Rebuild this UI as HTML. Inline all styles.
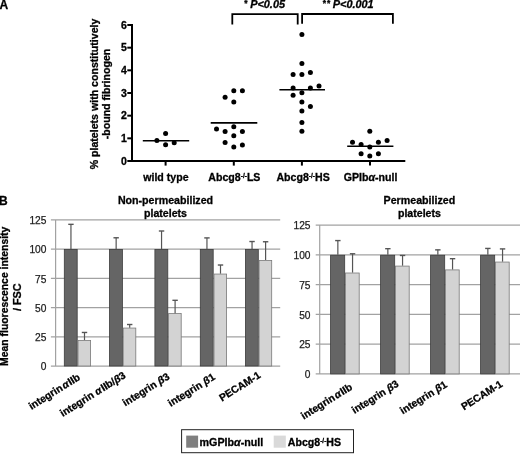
<!DOCTYPE html>
<html><head><meta charset="utf-8"><style>
html,body{margin:0;padding:0;background:#fff;}
body{width:520px;height:454px;overflow:hidden;}
svg{display:block;font-family:"Liberation Sans", sans-serif;will-change:transform;}
text{stroke:#000;stroke-width:0.3px;}
text.r{stroke:#222;stroke-width:0.25px;}
</style></head><body>
<svg width="520" height="454" viewBox="0 0 520 454">
<text x="-0.6" y="8.5" font-size="12" font-weight="bold">A</text>
<line x1="132" y1="24" x2="132" y2="162" stroke="#000" stroke-width="2"/>
<line x1="127.3" y1="161.00" x2="132" y2="161.00" stroke="#000" stroke-width="2"/>
<text x="126.9" y="164.70" font-size="10.5" font-weight="bold" text-anchor="end">0</text>
<line x1="127.3" y1="138.33" x2="132" y2="138.33" stroke="#000" stroke-width="2"/>
<text x="126.9" y="142.03" font-size="10.5" font-weight="bold" text-anchor="end">1</text>
<line x1="127.3" y1="115.67" x2="132" y2="115.67" stroke="#000" stroke-width="2"/>
<text x="126.9" y="119.37" font-size="10.5" font-weight="bold" text-anchor="end">2</text>
<line x1="127.3" y1="93.00" x2="132" y2="93.00" stroke="#000" stroke-width="2"/>
<text x="126.9" y="96.70" font-size="10.5" font-weight="bold" text-anchor="end">3</text>
<line x1="127.3" y1="70.33" x2="132" y2="70.33" stroke="#000" stroke-width="2"/>
<text x="126.9" y="74.03" font-size="10.5" font-weight="bold" text-anchor="end">4</text>
<line x1="127.3" y1="47.66" x2="132" y2="47.66" stroke="#000" stroke-width="2"/>
<text x="126.9" y="51.36" font-size="10.5" font-weight="bold" text-anchor="end">5</text>
<line x1="127.3" y1="25.00" x2="132" y2="25.00" stroke="#000" stroke-width="2"/>
<text x="126.9" y="28.70" font-size="10.5" font-weight="bold" text-anchor="end">6</text>
<line x1="131" y1="161" x2="405.3" y2="161" stroke="#000" stroke-width="2"/>
<line x1="165.6" y1="161" x2="165.6" y2="165.6" stroke="#000" stroke-width="2"/>
<line x1="233.8" y1="161" x2="233.8" y2="165.6" stroke="#000" stroke-width="2"/>
<line x1="301.9" y1="161" x2="301.9" y2="165.6" stroke="#000" stroke-width="2"/>
<line x1="370.0" y1="161" x2="370.0" y2="165.6" stroke="#000" stroke-width="2"/>
<text x="165.9" y="181.4" font-size="10.6" font-weight="bold" text-anchor="middle">wild type</text>
<text x="234.4" y="181.4" font-size="10.6" font-weight="bold" text-anchor="middle">Abcg8<tspan font-size="6.5" dy="-3.5">-/-</tspan><tspan dy="3.5">LS</tspan></text>
<text x="303.09999999999997" y="181.4" font-size="10.6" font-weight="bold" text-anchor="middle">Abcg8<tspan font-size="6.5" dy="-3.5">-/-</tspan><tspan dy="3.5">HS</tspan></text>
<text x="370.6" y="181.4" font-size="10.6" font-weight="bold" text-anchor="middle">GPIb<tspan font-style="italic">α</tspan>-null</text>
<text transform="translate(98.0,94) rotate(-90)" font-size="10.6" font-weight="bold" text-anchor="middle">% platelets with constitutively</text>
<text transform="translate(109.8,94) rotate(-90)" font-size="10.6" font-weight="bold" text-anchor="middle">-bound fibrinogen</text>
<circle cx="156.9" cy="140.5" r="2.5" fill="#000"/>
<circle cx="165.6" cy="133.5" r="2.5" fill="#000"/>
<circle cx="165.6" cy="144.8" r="2.5" fill="#000"/>
<circle cx="174.2" cy="142.7" r="2.5" fill="#000"/>
<circle cx="233.8" cy="90.7" r="2.5" fill="#000"/>
<circle cx="242.4" cy="90.7" r="2.5" fill="#000"/>
<circle cx="225.1" cy="97.3" r="2.5" fill="#000"/>
<circle cx="233.8" cy="102" r="2.5" fill="#000"/>
<circle cx="233.8" cy="126.7" r="2.5" fill="#000"/>
<circle cx="216.5" cy="129" r="2.5" fill="#000"/>
<circle cx="225.1" cy="131.5" r="2.5" fill="#000"/>
<circle cx="242.4" cy="131.5" r="2.5" fill="#000"/>
<circle cx="233.8" cy="135.8" r="2.5" fill="#000"/>
<circle cx="225.1" cy="142.4" r="2.5" fill="#000"/>
<circle cx="233.8" cy="146.9" r="2.5" fill="#000"/>
<circle cx="242.4" cy="144.9" r="2.5" fill="#000"/>
<circle cx="301.9" cy="34.4" r="2.5" fill="#000"/>
<circle cx="301.9" cy="63.5" r="2.5" fill="#000"/>
<circle cx="293.1" cy="74.5" r="2.5" fill="#000"/>
<circle cx="301.9" cy="74.5" r="2.5" fill="#000"/>
<circle cx="310.4" cy="72.5" r="2.5" fill="#000"/>
<circle cx="319" cy="86.1" r="2.5" fill="#000"/>
<circle cx="293.1" cy="87.9" r="2.5" fill="#000"/>
<circle cx="310.4" cy="87.9" r="2.5" fill="#000"/>
<circle cx="301.9" cy="92.7" r="2.5" fill="#000"/>
<circle cx="293.1" cy="95.2" r="2.5" fill="#000"/>
<circle cx="301.9" cy="102" r="2.5" fill="#000"/>
<circle cx="310.4" cy="106.4" r="2.5" fill="#000"/>
<circle cx="301.9" cy="110.9" r="2.5" fill="#000"/>
<circle cx="301.9" cy="122.4" r="2.5" fill="#000"/>
<circle cx="301.9" cy="131.3" r="2.5" fill="#000"/>
<circle cx="369.8" cy="131.3" r="2.5" fill="#000"/>
<circle cx="352.5" cy="142.3" r="2.5" fill="#000"/>
<circle cx="361.1" cy="144.6" r="2.5" fill="#000"/>
<circle cx="369.8" cy="146.9" r="2.5" fill="#000"/>
<circle cx="378.4" cy="142.3" r="2.5" fill="#000"/>
<circle cx="387.1" cy="140.5" r="2.5" fill="#000"/>
<circle cx="361.1" cy="153.8" r="2.5" fill="#000"/>
<circle cx="369.8" cy="156.1" r="2.5" fill="#000"/>
<circle cx="378.4" cy="153.8" r="2.5" fill="#000"/>
<line x1="142.8" y1="140.8" x2="189.2" y2="140.8" stroke="#000" stroke-width="1.6"/>
<line x1="210.7" y1="122.9" x2="257.3" y2="122.9" stroke="#000" stroke-width="1.6"/>
<line x1="279.4" y1="89.8" x2="325" y2="89.8" stroke="#000" stroke-width="1.6"/>
<line x1="347.2" y1="146.2" x2="393.4" y2="146.2" stroke="#000" stroke-width="1.6"/>
<path d="M232.3 24.6 V14.2 H297.7 V24.6" fill="none" stroke="#000" stroke-width="1.8"/>
<path d="M302.1 23.8 V14.0 H392.9 V23.8" fill="none" stroke="#000" stroke-width="1.8"/>
<text x="245.8" y="6.3" font-size="8.5" font-weight="bold" text-anchor="middle">*</text>
<text x="250.2" y="7.9" font-size="10.9" font-weight="bold" font-style="italic">P&lt;0.05</text>
<text x="324.3" y="6.1" font-size="8.5" font-weight="bold" text-anchor="middle">*</text><text x="328.6" y="6.1" font-size="8.5" font-weight="bold" text-anchor="middle">*</text>
<text x="332.8" y="7.9" font-size="10.9" font-weight="bold" font-style="italic">P&lt;0.001</text>
<text x="-1" y="204.8" font-size="12" font-weight="bold">B</text>
<line x1="50.9" y1="366.00" x2="280.2" y2="366.00" stroke="#a2a2a2" stroke-width="1.25"/>
<text x="46.400000000000006" y="370.30" font-size="10.2" text-anchor="end" fill="#1a1a1a" class="r">0</text>
<line x1="50.9" y1="336.78" x2="280.2" y2="336.78" stroke="#a2a2a2" stroke-width="1.25"/>
<text x="46.400000000000006" y="341.08" font-size="10.2" text-anchor="end" fill="#1a1a1a" class="r">25</text>
<line x1="50.9" y1="307.56" x2="280.2" y2="307.56" stroke="#a2a2a2" stroke-width="1.25"/>
<text x="46.400000000000006" y="311.86" font-size="10.2" text-anchor="end" fill="#1a1a1a" class="r">50</text>
<line x1="50.9" y1="278.34" x2="280.2" y2="278.34" stroke="#a2a2a2" stroke-width="1.25"/>
<text x="46.400000000000006" y="282.64" font-size="10.2" text-anchor="end" fill="#1a1a1a" class="r">75</text>
<line x1="50.9" y1="249.12" x2="280.2" y2="249.12" stroke="#a2a2a2" stroke-width="1.25"/>
<text x="46.400000000000006" y="253.42" font-size="10.2" text-anchor="end" fill="#1a1a1a" class="r">100</text>
<line x1="50.9" y1="219.90" x2="280.2" y2="219.90" stroke="#a2a2a2" stroke-width="1.25"/>
<text x="46.400000000000006" y="224.20" font-size="10.2" text-anchor="end" fill="#1a1a1a" class="r">125</text>
<line x1="55.6" y1="219.90" x2="55.6" y2="366.00" stroke="#a2a2a2" stroke-width="1.2"/>
<rect x="64.30" y="249.52" width="12.90" height="116.48" fill="#656565" stroke="#3c3c3c" stroke-width="0.8"/>
<rect x="78.00" y="340.45" width="12.60" height="25.55" fill="#d3d3d3" stroke="#7a7a7a" stroke-width="0.8"/>
<line x1="70.95" y1="249.12" x2="70.95" y2="224.34" stroke="#555" stroke-width="1.2"/>
<line x1="68.25" y1="224.34" x2="73.65" y2="224.34" stroke="#555" stroke-width="1.4"/>
<line x1="84.50" y1="340.05" x2="84.50" y2="332.46" stroke="#555" stroke-width="1.2"/>
<line x1="81.80" y1="332.46" x2="87.20" y2="332.46" stroke="#555" stroke-width="1.4"/>
<rect x="109.50" y="249.52" width="12.90" height="116.48" fill="#656565" stroke="#3c3c3c" stroke-width="0.8"/>
<rect x="123.20" y="328.06" width="12.60" height="37.94" fill="#d3d3d3" stroke="#7a7a7a" stroke-width="0.8"/>
<line x1="116.15" y1="249.12" x2="116.15" y2="237.78" stroke="#555" stroke-width="1.2"/>
<line x1="113.45" y1="237.78" x2="118.85" y2="237.78" stroke="#555" stroke-width="1.4"/>
<line x1="129.70" y1="327.66" x2="129.70" y2="324.51" stroke="#555" stroke-width="1.2"/>
<line x1="127.00" y1="324.51" x2="132.40" y2="324.51" stroke="#555" stroke-width="1.4"/>
<rect x="154.90" y="249.52" width="12.90" height="116.48" fill="#656565" stroke="#3c3c3c" stroke-width="0.8"/>
<rect x="168.60" y="313.57" width="12.60" height="52.43" fill="#d3d3d3" stroke="#7a7a7a" stroke-width="0.8"/>
<line x1="161.55" y1="249.12" x2="161.55" y2="231.00" stroke="#555" stroke-width="1.2"/>
<line x1="158.85" y1="231.00" x2="164.25" y2="231.00" stroke="#555" stroke-width="1.4"/>
<line x1="175.10" y1="313.17" x2="175.10" y2="300.31" stroke="#555" stroke-width="1.2"/>
<line x1="172.40" y1="300.31" x2="177.80" y2="300.31" stroke="#555" stroke-width="1.4"/>
<rect x="200.30" y="249.52" width="12.90" height="116.48" fill="#656565" stroke="#3c3c3c" stroke-width="0.8"/>
<rect x="214.00" y="274.06" width="12.60" height="91.94" fill="#d3d3d3" stroke="#7a7a7a" stroke-width="0.8"/>
<line x1="206.95" y1="249.12" x2="206.95" y2="237.90" stroke="#555" stroke-width="1.2"/>
<line x1="204.25" y1="237.90" x2="209.65" y2="237.90" stroke="#555" stroke-width="1.4"/>
<line x1="220.50" y1="273.66" x2="220.50" y2="265.02" stroke="#555" stroke-width="1.2"/>
<line x1="217.80" y1="265.02" x2="223.20" y2="265.02" stroke="#555" stroke-width="1.4"/>
<rect x="245.40" y="249.52" width="12.90" height="116.48" fill="#656565" stroke="#3c3c3c" stroke-width="0.8"/>
<rect x="259.10" y="260.51" width="12.60" height="105.49" fill="#d3d3d3" stroke="#7a7a7a" stroke-width="0.8"/>
<line x1="252.05" y1="249.12" x2="252.05" y2="241.52" stroke="#555" stroke-width="1.2"/>
<line x1="249.35" y1="241.52" x2="254.75" y2="241.52" stroke="#555" stroke-width="1.4"/>
<line x1="265.60" y1="260.11" x2="265.60" y2="241.76" stroke="#555" stroke-width="1.2"/>
<line x1="262.90" y1="241.76" x2="268.30" y2="241.76" stroke="#555" stroke-width="1.4"/>
<line x1="315.7" y1="373.90" x2="520" y2="373.90" stroke="#a2a2a2" stroke-width="1.25"/>
<text x="310.5" y="378.20" font-size="10.2" text-anchor="end" fill="#1a1a1a" class="r">0</text>
<line x1="315.7" y1="344.14" x2="520" y2="344.14" stroke="#a2a2a2" stroke-width="1.25"/>
<text x="310.5" y="348.44" font-size="10.2" text-anchor="end" fill="#1a1a1a" class="r">25</text>
<line x1="315.7" y1="314.38" x2="520" y2="314.38" stroke="#a2a2a2" stroke-width="1.25"/>
<text x="310.5" y="318.68" font-size="10.2" text-anchor="end" fill="#1a1a1a" class="r">50</text>
<line x1="315.7" y1="284.62" x2="520" y2="284.62" stroke="#a2a2a2" stroke-width="1.25"/>
<text x="310.5" y="288.92" font-size="10.2" text-anchor="end" fill="#1a1a1a" class="r">75</text>
<line x1="315.7" y1="254.86" x2="520" y2="254.86" stroke="#a2a2a2" stroke-width="1.25"/>
<text x="310.5" y="259.16" font-size="10.2" text-anchor="end" fill="#1a1a1a" class="r">100</text>
<line x1="315.7" y1="225.10" x2="520" y2="225.10" stroke="#a2a2a2" stroke-width="1.25"/>
<text x="310.5" y="229.40" font-size="10.2" text-anchor="end" fill="#1a1a1a" class="r">125</text>
<line x1="319.7" y1="225.10" x2="319.7" y2="373.90" stroke="#a2a2a2" stroke-width="1.2"/>
<rect x="330.60" y="255.26" width="14.10" height="118.64" fill="#656565" stroke="#3c3c3c" stroke-width="0.8"/>
<rect x="345.50" y="273.00" width="13.70" height="100.90" fill="#d3d3d3" stroke="#7a7a7a" stroke-width="0.8"/>
<line x1="337.85" y1="254.86" x2="337.85" y2="240.58" stroke="#555" stroke-width="1.2"/>
<line x1="335.15" y1="240.58" x2="340.55" y2="240.58" stroke="#555" stroke-width="1.4"/>
<line x1="352.55" y1="272.60" x2="352.55" y2="253.79" stroke="#555" stroke-width="1.2"/>
<line x1="349.85" y1="253.79" x2="355.25" y2="253.79" stroke="#555" stroke-width="1.4"/>
<rect x="380.60" y="255.26" width="14.10" height="118.64" fill="#656565" stroke="#3c3c3c" stroke-width="0.8"/>
<rect x="395.50" y="266.09" width="13.70" height="107.81" fill="#d3d3d3" stroke="#7a7a7a" stroke-width="0.8"/>
<line x1="387.85" y1="254.86" x2="387.85" y2="248.67" stroke="#555" stroke-width="1.2"/>
<line x1="385.15" y1="248.67" x2="390.55" y2="248.67" stroke="#555" stroke-width="1.4"/>
<line x1="402.55" y1="265.69" x2="402.55" y2="255.46" stroke="#555" stroke-width="1.2"/>
<line x1="399.85" y1="255.46" x2="405.25" y2="255.46" stroke="#555" stroke-width="1.4"/>
<rect x="430.60" y="255.26" width="14.10" height="118.64" fill="#656565" stroke="#3c3c3c" stroke-width="0.8"/>
<rect x="445.50" y="269.90" width="13.70" height="104.00" fill="#d3d3d3" stroke="#7a7a7a" stroke-width="0.8"/>
<line x1="437.85" y1="254.86" x2="437.85" y2="249.86" stroke="#555" stroke-width="1.2"/>
<line x1="435.15" y1="249.86" x2="440.55" y2="249.86" stroke="#555" stroke-width="1.4"/>
<line x1="452.55" y1="269.50" x2="452.55" y2="258.67" stroke="#555" stroke-width="1.2"/>
<line x1="449.85" y1="258.67" x2="455.25" y2="258.67" stroke="#555" stroke-width="1.4"/>
<rect x="480.60" y="255.26" width="14.10" height="118.64" fill="#656565" stroke="#3c3c3c" stroke-width="0.8"/>
<rect x="495.50" y="262.05" width="13.70" height="111.85" fill="#d3d3d3" stroke="#7a7a7a" stroke-width="0.8"/>
<line x1="487.85" y1="254.86" x2="487.85" y2="248.43" stroke="#555" stroke-width="1.2"/>
<line x1="485.15" y1="248.43" x2="490.55" y2="248.43" stroke="#555" stroke-width="1.4"/>
<line x1="502.55" y1="261.65" x2="502.55" y2="248.91" stroke="#555" stroke-width="1.2"/>
<line x1="499.85" y1="248.91" x2="505.25" y2="248.91" stroke="#555" stroke-width="1.4"/>
<text x="165.5" y="204.4" font-size="10.65" font-weight="bold" text-anchor="middle">Non-permeabilized</text>
<text x="165.5" y="216.9" font-size="10.6" font-weight="bold" text-anchor="middle">platelets</text>
<text x="419.4" y="204.4" font-size="10.65" font-weight="bold" text-anchor="middle">Permeabilized</text>
<text x="419.4" y="216.9" font-size="10.6" font-weight="bold" text-anchor="middle">platelets</text>
<text transform="translate(8.4,296.3) rotate(-90)" font-size="10.4" font-weight="bold" text-anchor="middle">Mean fluorescence intensity</text>
<text transform="translate(21.2,297.2) rotate(-90)" font-size="10.9" font-weight="bold" text-anchor="middle">/ FSC</text>
<text transform="translate(80.8,379.1) rotate(-32)" font-size="10.35" font-weight="bold" text-anchor="end">integrin<tspan dx="1" font-style="italic">α</tspan><tspan dx="0.8">IIb</tspan></text>
<text transform="translate(126.5,377.2) rotate(-32)" font-size="10.35" font-weight="bold" text-anchor="end">integrin <tspan font-style="italic">α</tspan><tspan dx="0.8">IIb/</tspan><tspan font-style="italic">β</tspan>3</text>
<text transform="translate(170.3,378.4) rotate(-32)" font-size="10.35" font-weight="bold" text-anchor="end">integrin <tspan font-style="italic">β</tspan>3</text>
<text transform="translate(215.8,378.8) rotate(-32)" font-size="10.35" font-weight="bold" text-anchor="end">integrin <tspan font-style="italic">β</tspan>1</text>
<text transform="translate(261.4,377.0) rotate(-32)" font-size="10.35" font-weight="bold" text-anchor="end">PECAM-1</text>
<text transform="translate(353.1,388.8) rotate(-32)" font-size="10.35" font-weight="bold" text-anchor="end">integrin<tspan dx="1" font-style="italic">α</tspan><tspan dx="0.8">IIb</tspan></text>
<text transform="translate(399.5,385.8) rotate(-32)" font-size="10.35" font-weight="bold" text-anchor="end">integrin <tspan font-style="italic">β</tspan>3</text>
<text transform="translate(447.8,386.4) rotate(-32)" font-size="10.35" font-weight="bold" text-anchor="end">integrin <tspan font-style="italic">β</tspan>1</text>
<text transform="translate(503.4,385.9) rotate(-32)" font-size="10.35" font-weight="bold" text-anchor="end">PECAM-1</text>
<rect x="181.6" y="429.7" width="171.9" height="23.0" fill="#fff" stroke="#222" stroke-width="1"/>
<rect x="186.2" y="435.6" width="11.9" height="12.1" fill="#7f7f7f"/>
<text x="199.6" y="446" font-size="10.7" font-weight="bold">mGPIb<tspan font-style="italic">α</tspan>-null</text>
<rect x="273.7" y="435.6" width="12.1" height="12.1" fill="#d9d9d9"/>
<text x="287.8" y="446" font-size="10.6" font-weight="bold">Abcg8<tspan font-size="6.5" dy="-3.5">-/-</tspan><tspan dy="3.5">HS</tspan></text>
</svg>
</body></html>
